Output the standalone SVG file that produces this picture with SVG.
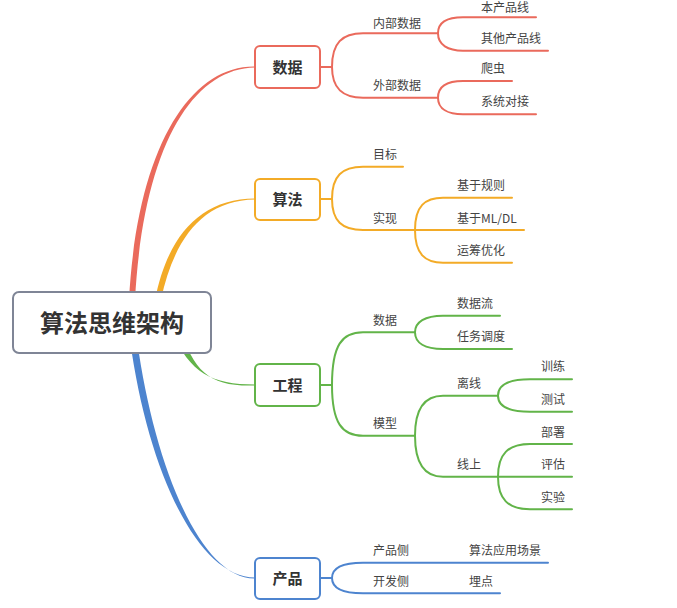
<svg xmlns="http://www.w3.org/2000/svg" width="677" height="608" viewBox="0 0 677 608">
<style>
.t{font-family:"Noto Sans CJK SC","Noto Sans",sans-serif;font-size:12px;fill:#444}
.tt{font-family:"Noto Sans CJK SC","Noto Sans",sans-serif;font-size:15px;font-weight:bold;fill:#333;text-anchor:middle}
.rt{font-family:"Noto Sans CJK SC","Noto Sans",sans-serif;font-size:24px;font-weight:bold;fill:#333;text-anchor:middle}
.ln{fill:none;stroke-width:2;stroke-linecap:round}
.r{stroke:#ea6a5c}.o{stroke:#f3ab27}.g{stroke:#62b449}.b{stroke:#4d84cf}
.box{fill:#fff;stroke-width:2}
</style>
<rect width="677" height="608" fill="#fff"/>
<g id="connectors">
<path d="M129,300 C137,150 189,65.5 255,66.5 L255,67.5 C191,68.5 143,150 135,300 Z" fill="#ea6a5c"/>
<path d="M155,300 C167,238 199,198.5 255,198.5 L255,199.5 C201,200 173,242 161,300 Z" fill="#f3ab27"/>
<path d="M172,332 C190,373 212,384.5 255,384.5 L255,385.5 C210,387 194,372 180,328 Z" fill="#62b449"/>
<path d="M130,340 C148,472 198,577.5 255,577.5 L255,578.5 C202,579.5 155,470 137,340 Z" fill="#4d84cf"/>
<g class="ln r">
<path d="M320,67 H332"/>
<path d="M332,67 C332,43 342,33.3 363,33.3 H438"/>
<path d="M332,67 C332,88 342,97.7 363,97.7 H438"/>
<path d="M438,33.3 C438,22 448,17.3 463,17.3 H536"/>
<path d="M438,33.3 C438,45 448,50.7 463,50.7 H548"/>
<path d="M438,97.7 C438,86 448,81 463,81 H512"/>
<path d="M438,97.7 C438,109 448,114.3 463,114.3 H536"/>
</g>
<g class="ln o">
<path d="M320,199 H332"/>
<path d="M332,199 C332,176 342,166.7 363,166.7 H403"/>
<path d="M332,199 C332,221 342,230 363,230 H524"/>
<path d="M415,230 C415,206 425,197.7 443,197.7 H512"/>
<path d="M415,230 C415,254 425,262.7 443,262.7 H512"/>
</g>
<g class="ln g">
<path d="M320,385 H332"/>
<path d="M332,385 C332,345 342,332.3 363,332.3 H415"/>
<path d="M332,385 C332,423 342,435.7 363,435.7 H415"/>
<path d="M415,332.3 C415,322 425,315.7 443,315.7 H500"/>
<path d="M415,332.3 C415,343 425,349 443,349 H512"/>
<path d="M415,435.7 C415,408 425,395.7 443,395.7 H498"/>
<path d="M415,435.7 C415,464 425,476.7 443,476.7 H498"/>
<path d="M498,395.7 C498,385 508,379.3 530,379.3 H572"/>
<path d="M498,395.7 C498,406 508,411.7 530,411.7 H572"/>
<path d="M498,476.7 C498,454 508,444 530,444 H572"/>
<path d="M498,476.7 H572"/>
<path d="M498,476.7 C498,499 508,509.3 530,509.3 H572"/>
</g>
<g class="ln b">
<path d="M320,578 H332"/>
<path d="M332,578 C332,568 342,562.7 363,562.7 H548"/>
<path d="M332,578 C332,588 342,593.3 363,593.3 H500"/>
</g>
</g>
<g id="root">
<rect x="13" y="292" width="198" height="61" rx="6" class="box" stroke="#7f8596"/>
<text x="112" y="332" class="rt">算法思维架构</text>
</g>
<g id="shuju">
<rect x="255" y="46" width="65" height="42" rx="5" class="box" stroke="#ea6a5c"/>
<text x="287.5" y="72.5" class="tt">数据</text>
</g>
<g id="suanfa">
<rect x="255" y="179" width="65" height="41" rx="5" class="box" stroke="#f3ab27"/>
<text x="287.5" y="205" class="tt">算法</text>
</g>
<g id="gongcheng">
<rect x="255" y="364" width="65" height="42" rx="5" class="box" stroke="#62b449"/>
<text x="287.5" y="390.5" class="tt">工程</text>
</g>
<g id="chanpin">
<rect x="255" y="558" width="65" height="41" rx="5" class="box" stroke="#4d84cf"/>
<text x="287.5" y="584" class="tt">产品</text>
</g>
<g id="labels">
<text x="373" y="28" class="t">内部数据</text>
<text x="481" y="11.5" class="t">本产品线</text>
<text x="481" y="43" class="t">其他产品线</text>
<text x="373" y="90" class="t">外部数据</text>
<text x="481" y="73" class="t">爬虫</text>
<text x="481" y="106" class="t">系统对接</text>
<text x="373" y="159" class="t">目标</text>
<text x="373" y="222.5" class="t">实现</text>
<text x="457" y="190" class="t">基于规则</text>
<text x="457" y="222.5" class="t">基于ML/DL</text>
<text x="457" y="255" class="t">运筹优化</text>
<text x="373" y="324.5" class="t">数据</text>
<text x="457" y="308" class="t">数据流</text>
<text x="457" y="341" class="t">任务调度</text>
<text x="373" y="427.5" class="t">模型</text>
<text x="457" y="388" class="t">离线</text>
<text x="457" y="469" class="t">线上</text>
<text x="541" y="371" class="t">训练</text>
<text x="541" y="403.5" class="t">测试</text>
<text x="541" y="436.5" class="t">部署</text>
<text x="541" y="469" class="t">评估</text>
<text x="541" y="501.5" class="t">实验</text>
<text x="373" y="555" class="t">产品侧</text>
<text x="373" y="586" class="t">开发侧</text>
<text x="469" y="555" class="t">算法应用场景</text>
<text x="469" y="586" class="t">埋点</text>
</g>
</svg>
